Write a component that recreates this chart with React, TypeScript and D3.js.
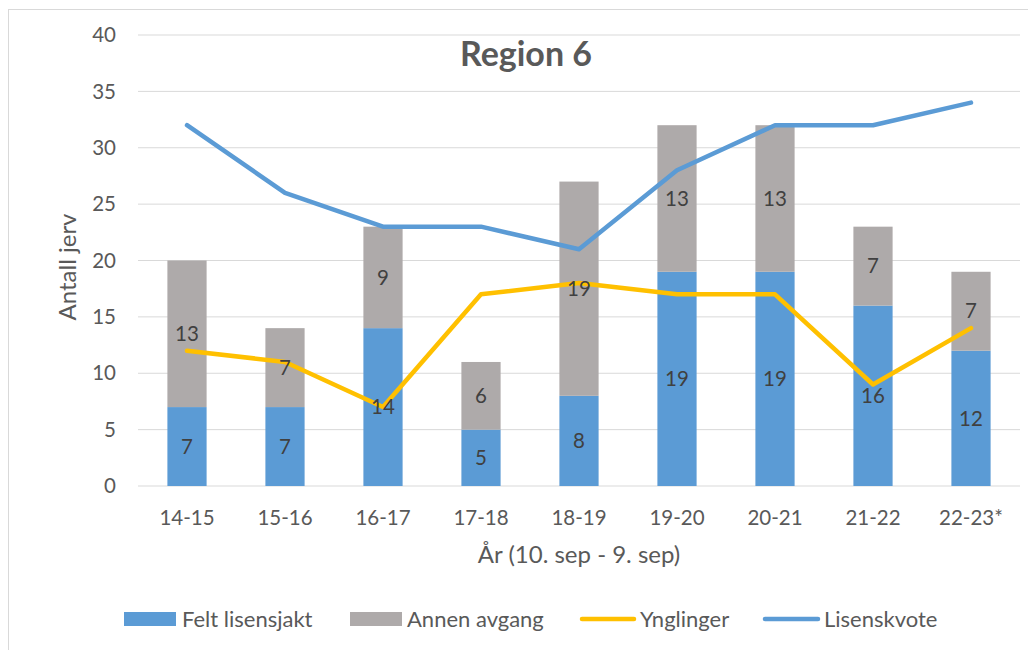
import React from "react";
import * as d3 from "d3";

const categories = ["14-15", "15-16", "16-17", "17-18", "18-19", "19-20", "20-21", "21-22", "22-23*"];
const feltLisensjakt = [7, 7, 14, 5, 8, 19, 19, 16, 12];
const annenAvgang = [13, 7, 9, 6, 19, 13, 13, 7, 7];
const ynglinger = [12, 11, 7, 17, 18, 17, 17, 9, 14];
const lisenskvote = [32, 26, 23, 23, 21, 28, 32, 32, 34];
const yTicks = [0, 5, 10, 15, 20, 25, 30, 35, 40];

const BLUE = "#5B9BD5";
const GRAY = "#AEAAAA";
const YELLOW = "#FFC000";
const TEXT = "#595959";
const LABEL = "#404040";
const FONT = "Lato, 'Open Sans', sans-serif";

export default function App() {
  const W = 1028, H = 650;
  const left = 138, right = 1020, top = 35, bottom = 486;
  const x = d3.scaleBand<string>().domain(categories).range([left, right]).paddingInner(0.6).paddingOuter(0.3);
  const xc = (c: string) => (x(c) as number) + x.bandwidth() / 2;
  const y = d3.scaleLinear().domain([0, 40]).range([bottom, top]);
  const line = d3.line<number>().x((_, i) => xc(categories[i])).y((d) => y(d));

  return (
    <svg width={W} height={H} style={{ position: "absolute", left: 0, top: 0, fontFamily: FONT }}>
      <rect x={0} y={0} width={W} height={H} fill="#fff" />
      <rect x={8.5} y={9.5} width={1030} height={650} fill="none" stroke="#D9D9D9" strokeWidth={1} />
      {yTicks.map((t) => (
        <g key={t}>
          <line x1={left} x2={right} y1={y(t)} y2={y(t)} stroke="#D9D9D9" strokeWidth={1} />
          <text x={116} y={y(t)} dy="0.35em" textAnchor="end" fontSize={20.5} fill={TEXT}>{t}</text>
        </g>
      ))}
      {categories.map((c, i) => {
        const x0 = x(c) as number;
        const bw = x.bandwidth();
        const f = feltLisensjakt[i];
        const a = annenAvgang[i];
        return (
          <g key={c}>
            <rect x={x0} width={bw} y={y(f)} height={y(0) - y(f)} fill={BLUE} />
            <rect x={x0} width={bw} y={y(f + a)} height={y(f) - y(f + a)} fill={GRAY} />
          </g>
        );
      })}
      <path d={line(ynglinger) || ""} fill="none" stroke={YELLOW} strokeWidth={4.5} strokeLinecap="round" strokeLinejoin="round" />
      <path d={line(lisenskvote) || ""} fill="none" stroke={BLUE} strokeWidth={4.5} strokeLinecap="round" strokeLinejoin="round" />
      {categories.map((c, i) => {
        const f = feltLisensjakt[i];
        const a = annenAvgang[i];
        return (
          <g key={"l" + c}>
            <text x={xc(c)} y={y(f / 2)} dy="0.35em" textAnchor="middle" fontSize={20.5} fill={LABEL}>{f}</text>
            <text x={xc(c)} y={y(f + a / 2)} dy="0.35em" textAnchor="middle" fontSize={20.5} fill={LABEL}>{a}</text>
          </g>
        );
      })}
      {categories.map((c) => (
        <text key={"t" + c} x={xc(c)} y={518} dy="0.35em" textAnchor="middle" fontSize={20.5} fill={TEXT}>{c}</text>
      ))}
      <text x={526} y={54} dy="0.35em" textAnchor="middle" fontSize={34} fontWeight="bold" fill={TEXT}>Region 6</text>
      <text transform={`translate(68,267) rotate(-90)`} dy="0.35em" textAnchor="middle" fontSize={24} fill={TEXT}>Antall jerv</text>
      <text x={579} y={555} dy="0.35em" textAnchor="middle" fontSize={24} fill={TEXT}>År (10. sep - 9. sep)</text>
      <g fontSize={22} fill={TEXT}>
        <rect x={124} y={612} width={52} height={14} fill={BLUE} />
        <text x={182} y={619} dy="0.35em">Felt lisensjakt</text>
        <rect x={350} y={612} width={52} height={14} fill={GRAY} />
        <text x={407} y={619} dy="0.35em">Annen avgang</text>
        <line x1={582} x2={634} y1={619} y2={619} stroke={YELLOW} strokeWidth={4.5} strokeLinecap="round" />
        <text x={640} y={619} dy="0.35em">Ynglinger</text>
        <line x1={765} x2={818} y1={619} y2={619} stroke={BLUE} strokeWidth={4.5} strokeLinecap="round" />
        <text x={824} y={619} dy="0.35em">Lisenskvote</text>
      </g>
    </svg>
  );
}
